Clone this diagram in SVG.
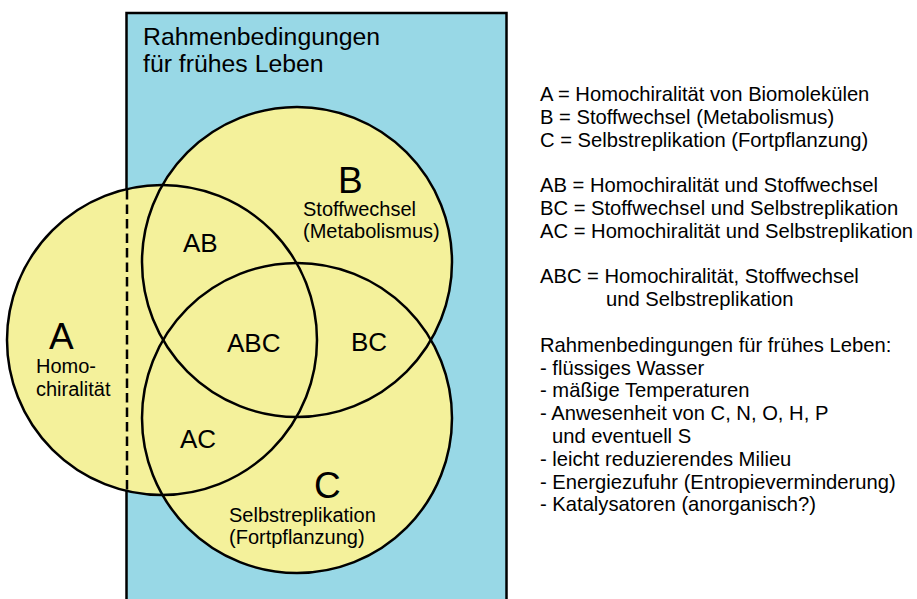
<svg xmlns="http://www.w3.org/2000/svg" width="917" height="599" viewBox="0 0 917 599">
  <style>
    text { font-family: "Liberation Sans", Arial, sans-serif; fill: #000; }
    .fill { fill: #f4f19b; stroke: none; }
    .ring { fill: none; stroke: #000; stroke-width: 2.5; }
    .big { font-size: 37px; }
    .mid { font-size: 26px; }
    .sm { font-size: 20px; }
    .lg { font-size: 20.2px; }
    .title { font-size: 24.8px; }
  </style>
  <rect width="917" height="599" fill="#fff"/>
  <g id="frame">
    <rect x="126.5" y="13" width="380" height="620" fill="#98d8e6" stroke="#000" stroke-width="2.5"/>
    <text class="title" x="143" y="45">Rahmenbedingungen</text>
    <text class="title" x="143" y="72">für frühes Leben</text>
  </g>
  <g id="fills">
    <circle class="fill" cx="162" cy="340" r="155"/>
    <circle class="fill" cx="297" cy="262" r="155"/>
    <circle class="fill" cx="297" cy="418" r="155"/>
  </g>
  <g id="frame-edge">
    <line x1="127" y1="190" x2="127" y2="491" stroke="#000" stroke-width="2.5" stroke-dasharray="9.5 5"/>
  </g>
  <g id="connectors"></g>
  <g id="node-A">
    <circle class="ring" cx="162" cy="340" r="155"/>
    <text class="big" x="49" y="349">A</text>
    <text class="sm" x="36" y="373">Homo-</text>
    <text class="sm" x="36" y="396">chiralität</text>
  </g>
  <g id="node-B">
    <circle class="ring" cx="297" cy="262" r="155"/>
    <text class="big" x="338" y="193">B</text>
    <text class="sm" x="303" y="216">Stoffwechsel</text>
    <text class="sm" x="303" y="238">(Metabolismus)</text>
  </g>
  <g id="node-C">
    <circle class="ring" cx="297" cy="418" r="155"/>
    <text class="big" x="314" y="498">C</text>
    <text class="sm" x="229" y="522">Selbstreplikation</text>
    <text class="sm" x="229" y="544">(Fortpflanzung)</text>
  </g>
  <g id="overlaps">
    <text class="mid" x="183" y="252">AB</text>
    <text class="mid" x="227" y="352">ABC</text>
    <text class="mid" x="351" y="351">BC</text>
    <text class="mid" x="180" y="448">AC</text>
  </g>
  <g id="legend">
    <text class="lg" x="540" y="101">A = Homochiralität von Biomolekülen</text>
    <text class="lg" x="540" y="123.8">B = Stoffwechsel (Metabolismus)</text>
    <text class="lg" x="540" y="146.6">C = Selbstreplikation (Fortpflanzung)</text>
    <text class="lg" x="540" y="192.2">AB = Homochiralität und Stoffwechsel</text>
    <text class="lg" x="540" y="215">BC = Stoffwechsel und Selbstreplikation</text>
    <text class="lg" x="540" y="237.8">AC = Homochiralität und Selbstreplikation</text>
    <text class="lg" x="540" y="283.4">ABC = Homochiralität, Stoffwechsel</text>
    <text class="lg" x="606" y="306.2">und Selbstreplikation</text>
    <text class="lg" x="540" y="351.8">Rahmenbedingungen für frühes Leben:</text>
    <text class="lg" x="540" y="374.6">- flüssiges Wasser</text>
    <text class="lg" x="540" y="397.4">- mäßige Temperaturen</text>
    <text class="lg" x="540" y="420.2">- Anwesenheit von C, N, O, H, P</text>
    <text class="lg" x="552" y="443">und eventuell S</text>
    <text class="lg" x="540" y="465.8">- leicht reduzierendes Milieu</text>
    <text class="lg" x="540" y="488.6">- Energiezufuhr (Entropieverminderung)</text>
    <text class="lg" x="540" y="511.4">- Katalysatoren (anorganisch?)</text>
  </g>
</svg>
